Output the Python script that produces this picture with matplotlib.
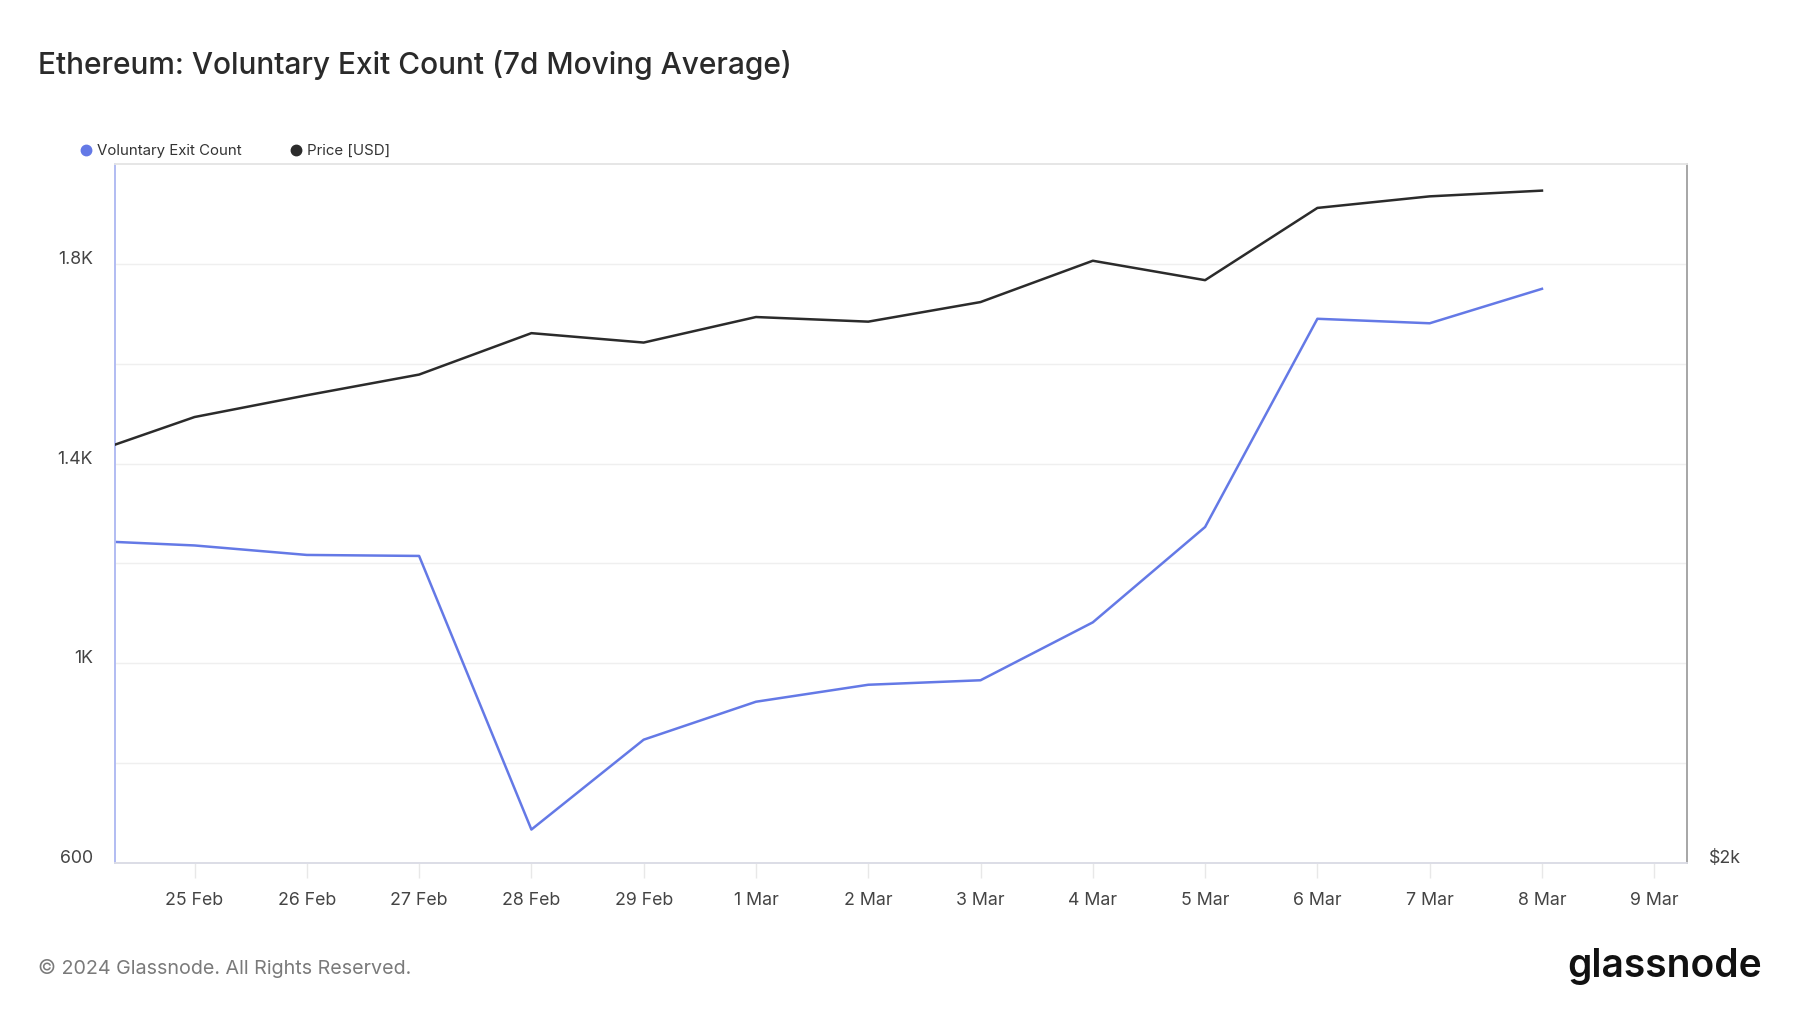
import matplotlib.pyplot as plt
import matplotlib.dates as mdates
from matplotlib.lines import Line2D
from matplotlib.ticker import FixedLocator, NullLocator, FuncFormatter
import numpy as np

plt.rcParams['font.family'] = ['Inter', 'DejaVu Sans']

# data, one value per day (24 Feb .. 8 Mar 2024)
dates = np.arange(np.datetime64('2024-02-24'), np.datetime64('2024-03-09'), np.timedelta64(1, 'D'))
exit_count = [1246, 1236, 1217, 1215, 667, 847, 923, 957, 966, 1082, 1273, 1690, 1681, 1750]
price_usd = [2958, 3071, 3136, 3199, 3329, 3299, 3381, 3366, 3430, 3569, 3503, 3755, 3797, 3818]

left_ticks = [600, 1000, 1400, 1800]
left_grid = [800, 1200, 1600]
left_labels = ['600', '1K', '1.4K', '1.8K']

blue = '#6479e6'
dark = '#2b2b2b'

fig = plt.figure(figsize=(18, 10.13), dpi=100)
ax = fig.add_axes([115 / 1800, 1 - 863 / 1013, (1687 - 115) / 1800, (863 - 164) / 1013])
ax2 = ax.twinx()

ax.plot(dates, exit_count, color=blue, lw=1.8, solid_joinstyle='round', zorder=3)
ax2.plot(dates, price_usd, color=dark, lw=1.8, solid_joinstyle='round', zorder=3)

# x axis: clip at ~7h after midnight on both ends, like the original window
shift = np.timedelta64(7, 'h')
ax.set_xlim(dates[0] + shift, np.datetime64('2024-03-09') + shift)
ax.xaxis.set_major_locator(mdates.DayLocator())
ax.xaxis.set_major_formatter(mdates.DateFormatter('%-d %b'))
ax.tick_params(axis='x', length=11, width=1, color='#e8e8e8', pad=10,
               labelsize=12.8, labelcolor='#444444')

# left axis
ax.set_ylim(600, 2000)
ax.yaxis.set_major_locator(FixedLocator(left_ticks))
ax.yaxis.set_minor_locator(FixedLocator(left_grid))
ax.set_yticklabels(left_labels)
ax.tick_params(axis='y', which='both', length=0, pad=16, labelsize=12.8, labelcolor='#444444')
for lab in ax.get_yticklabels():
    lab.set_verticalalignment('baseline')
ax.grid(axis='y', which='both', color='#efefef', lw=1)
ax.set_axisbelow(True)

# right axis (log price)
ax2.set_yscale('log')
ax2.set_ylim(2000, 3917)
ax2.yaxis.set_major_locator(FixedLocator([2000]))
ax2.yaxis.set_minor_locator(NullLocator())
ax2.yaxis.set_major_formatter(FuncFormatter(lambda v, p: '$%dk' % round(v / 1000)))
ax2.tick_params(axis='y', length=0, pad=16, labelsize=12.8, labelcolor='#444444')
for lab in ax2.get_yticklabels():
    lab.set_verticalalignment('baseline')

for a in (ax, ax2):
    a.spines['top'].set_color('#e6e6e6')
    a.spines['bottom'].set_color('#dcdde6')
    a.spines['left'].set_color('#b3bdf2')
    a.spines['right'].set_color('#a8a8a8')
    for s in a.spines.values():
        s.set_linewidth(1.3)

# legend
handles = [Line2D([], [], marker='o', ls='none', color=blue, markersize=7.5),
           Line2D([], [], marker='o', ls='none', color=dark, markersize=7.5)]
fig.legend(handles, ['Voluntary Exit Count', 'Price [USD]'], loc='center left',
           bbox_to_anchor=(81 / 1800, 1 - 151 / 1013), ncol=2, frameon=False,
           fontsize=10.8, labelcolor='#333333', handlelength=0.6, handletextpad=0.45,
           columnspacing=3.35, borderpad=0, borderaxespad=0)

fig.text(38 / 1800, 1 - 65 / 1013, 'Ethereum: Voluntary Exit Count (7d Moving Average)',
         fontsize=21.5, color='#2a2a2a', va='center', ha='left', fontweight='medium')
fig.text(38 / 1800, 1 - 968 / 1013, '© 2024 Glassnode. All Rights Reserved.',
         fontsize=14.2, color='#7a7a7a', va='center', ha='left')
fig.text(1762 / 1800, 1 - 966 / 1013, 'glassnode', fontsize=28, color='#111111',
         va='center', ha='right', fontweight='semibold')

fig.savefig('out.png', dpi=100, facecolor='white')
